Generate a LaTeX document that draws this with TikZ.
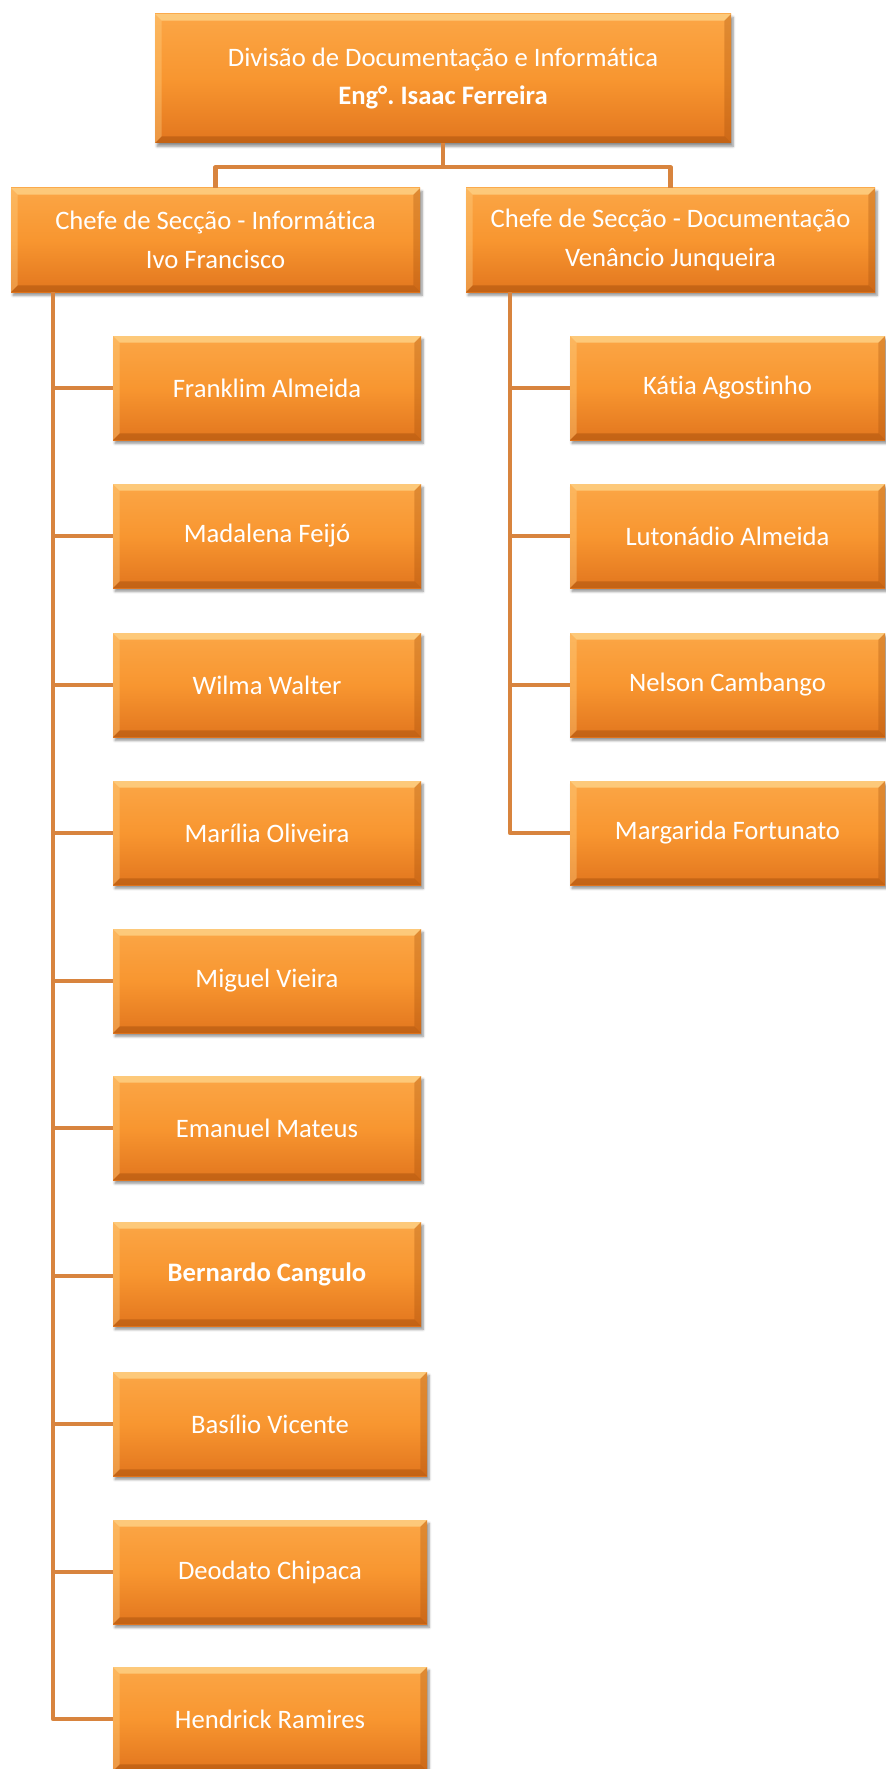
\documentclass[tikz,border=0pt]{standalone}
\usepackage{fontspec}
\setmainfont[Ligatures=NoCommon]{Carlito}
\usetikzlibrary{shadows.blur}
\frenchspacing

\definecolor{boxTop}{RGB}{251,166,70}
\definecolor{boxMid}{RGB}{248,150,48}
\definecolor{boxBot}{RGB}{226,118,30}
\definecolor{bevLight}{RGB}{255,214,140}
\definecolor{bevDark}{RGB}{160,76,10}
\definecolor{linkC}{RGB}{216,132,62}

\tikzset{
  orgbox/.style={
    rectangle, inner sep=0pt, align=center, text=white,
    font=\fontsize{20}{29}\selectfont,
    top color=boxTop, bottom color=boxBot, middle color=boxMid,
    blur shadow={shadow xshift=1.5pt, shadow yshift=-2.5pt, shadow blur steps=6, shadow opacity=45},
    path picture={
      \fill[bevLight, opacity=.75]
        (path picture bounding box.north west) -- (path picture bounding box.north east)
        -- ([shift={(-5pt,-5pt)}]path picture bounding box.north east)
        -- ([shift={(5pt,-5pt)}]path picture bounding box.north west) -- cycle;
      \fill[bevLight, opacity=.35]
        (path picture bounding box.north west) -- (path picture bounding box.south west)
        -- ([shift={(5pt,5pt)}]path picture bounding box.south west)
        -- ([shift={(5pt,-5pt)}]path picture bounding box.north west) -- cycle;
      \fill[bevDark, opacity=.45]
        (path picture bounding box.south west) -- (path picture bounding box.south east)
        -- ([shift={(-5pt,5pt)}]path picture bounding box.south east)
        -- ([shift={(5pt,5pt)}]path picture bounding box.south west) -- cycle;
      \fill[bevDark, opacity=.3]
        (path picture bounding box.north east) -- (path picture bounding box.south east)
        -- ([shift={(-5pt,5pt)}]path picture bounding box.south east)
        -- ([shift={(-5pt,-5pt)}]path picture bounding box.north east) -- cycle;
    }},
  headbox/.style={orgbox, minimum width=432pt, minimum height=96.75pt},
  chiefbox/.style={orgbox, minimum width=306.75pt, minimum height=78pt},
  leafbox/.style={orgbox, minimum width=231pt, minimum height=78pt},
  wideleaf/.style={orgbox, minimum width=235.5pt, minimum height=78pt},
  rightleaf/.style={orgbox, minimum width=236.25pt, minimum height=78pt},
  link/.style={draw=linkC, line width=3.2pt, line join=round}
}

\begin{document}
\begin{tikzpicture}[x=0.75pt, y=-0.75pt]
\useasboundingbox (0,0) rectangle (885,1769);

% points where the two section trunks leave their chief boxes
\coordinate (trunkL) at (53,292);
\coordinate (trunkR) at (510,292);

% boxes
\node[headbox] (head) at (443,78.5) {Divisão de Documentação e Informática\\\textbf{Eng°. Isaac Ferreira}};
\node[chiefbox] (chiefI) at (215.5,240) {Chefe de Secção - Informática\\Ivo Francisco};
\node[chiefbox] (chiefD) at (670.5,240) {Chefe de Secção - Documentação\\Venâncio Junqueira};

\node[leafbox] (i1) at (267,388) {Franklim Almeida};
\node[leafbox] (i2) at (267,536) {Madalena Feijó};
\node[leafbox] (i3) at (267,685) {Wilma Walter};
\node[leafbox] (i4) at (267,833) {Marília Oliveira};
\node[leafbox] (i5) at (267,981) {Miguel Vieira};
\node[leafbox] (i6) at (267,1128) {Emanuel Mateus};
\node[leafbox] (i7) at (267,1274) {\bfseries Bernardo Cangulo};
\node[wideleaf] (i8) at (270,1424) {Basílio Vicente};
\node[wideleaf] (i9) at (270,1572) {Deodato Chipaca};
\node[wideleaf] (i10) at (270,1719) {Hendrick Ramires};

\node[rightleaf] (d1) at (727.5,388) {Kátia Agostinho};
\node[rightleaf] (d2) at (727.5,536) {Lutonádio Almeida};
\node[rightleaf] (d3) at (727.5,685) {Nelson Cambango};
\node[rightleaf] (d4) at (727.5,833) {Margarida Fortunato};

% links
\draw[link] (head.south) -- ++(0,24) -| (chiefI.north);
\draw[link] (head.south) -- ++(0,24) -| (chiefD.north);
\foreach \n in {i1,i2,i3,i4,i5,i6,i8,i9,i10}
  \draw[link] (trunkL) |- (\n.west);
\draw[link] (trunkL) |- ([yshift=-1.5pt]i7.west);
\foreach \n in {d1,d2,d3,d4}
  \draw[link] (trunkR) |- (\n.west);
\end{tikzpicture}
\end{document}
